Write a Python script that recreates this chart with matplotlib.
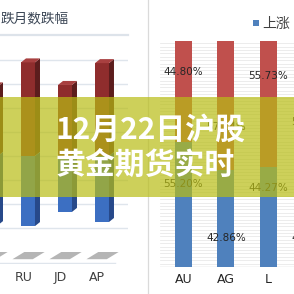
import numpy as np
import matplotlib
matplotlib.use("Agg")
import matplotlib.pyplot as plt
from matplotlib.patches import Polygon, Rectangle
from matplotlib.lines import Line2D

plt.rcParams['font.family'] = ['Noto Sans CJK SC', 'DejaVu Sans']

# ---------------- data ----------------
left_title = "跌月数跌幅"
left_categories = ["", "RU", "JD", "AP"]
left_up = [2.9, 3.9, 2.96, 3.87]        # red (up) bars, value units
left_down = [-2.88, -2.92, -2.33, -2.75]  # blue (down) bars

right_categories = ["AU", "AG", "L", ""]
right_down_pct = [44.80, 57.14, 55.73, 54.55]   # red (top)
right_up_pct = [55.20, 42.86, 44.27, 45.45]     # blue (bottom)
right_down_label_y = [0.863, 0.619, 0.845, 0.64]
right_up_label_y = [0.367, 0.128, 0.350, 0.128]
legend_label = "上涨"

banner_lines = ["12月22日沪股", "黄金期货实时"]

W = H = 294
fig = plt.figure(figsize=(2.94, 2.94), dpi=100)
fig.patch.set_facecolor("white")

def fx(px):
    return px / W

def fy(py):
    return 1 - py / H

# ---------------- left 3D-like chart ----------------
axL = fig.add_axes([fx(0), fy(264), fx(128) - fx(0), fy(36) - fy(264)])
axL.set_xlim(0.243, 3.703)
axL.set_ylim(-4.5, 5)
axL.axis("off")
for g in range(-3, 5):
    axL.axhline(g, color="#dfe5ec", lw=1.0, zorder=1)

bw = 0.378
dx = 0.135
dy = 0.167
for i, (u, d) in enumerate(zip(left_up, left_down)):
    x0, x1 = i - bw / 2, i + bw / 2
    # red up bar
    axL.add_patch(Polygon([(x0, 0), (x1, 0), (x1, u), (x0, u)], closed=True,
                          fc="#8f2d2d", ec="none", zorder=3))
    axL.add_patch(Polygon([(x1, 0), (x1 + dx, dy), (x1 + dx, u + dy), (x1, u)],
                          closed=True, fc="#5c1d1d", ec="none", zorder=3))
    axL.add_patch(Polygon([(x0, u), (x0 + dx, u + dy), (x1 + dx, u + dy), (x1, u)],
                          closed=True, fc="#a84040", ec="none", zorder=3))
    # blue down bar
    axL.add_patch(Polygon([(x0, d), (x1, d), (x1, 0), (x0, 0)], closed=True,
                          fc="#3c6fc2", ec="none", zorder=3))
    axL.add_patch(Polygon([(x1, d), (x1 + dx, d + dy), (x1 + dx, dy), (x1, 0)],
                          closed=True, fc="#27498a", ec="none", zorder=3))
    # floor shadow
    axL.add_patch(Polygon([(i - 0.42, -4.30), (i + 0.13, -4.30), (i + 0.45, -4.0), (i - 0.10, -4.0)],
                          closed=True, fc="#b5b5b5", ec="none", zorder=2))
    if left_categories[i]:
        axL.text(i - 0.13, -5.05, left_categories[i], ha="center", va="center",
                 fontsize=9, color="#404040", family="DejaVu Sans", clip_on=False)
axL.axhline(-4.45, xmax=0.9, color="#dfe5ec", lw=1.0, zorder=1)

# title + separator
fig.text(fx(1), fy(18), left_title, ha="left", va="center", fontsize=9.8, color="#3b4655")
fig.add_artist(Line2D([fx(0), fx(128)], [fy(35), fy(35)], color="#dde3ea", lw=1.6))

# divider
fig.add_artist(Line2D([fx(148), fx(148)], [0, 1], color="#dadada", lw=0.9))

# ---------------- right stacked chart ----------------
axR = fig.add_axes([fx(160), fy(267), fx(330) - fx(160), fy(41) - fy(267)])
axR.set_xlim(-0.55, 3.45)
axR.set_ylim(0, 1)
axR.axis("off")
for g in np.arange(0, 1.0001, 0.015):
    axR.axhline(g, color="#e9e9e9", lw=0.6, zorder=1)
axR.axhline(0, color="#d4d4d4", lw=1.0, zorder=2)

xs = np.arange(len(right_categories))
up = np.array(right_up_pct) / 100
dn = np.array(right_down_pct) / 100
axR.bar(xs, up, width=0.4, color="#4f81bd", zorder=3)
axR.bar(xs, dn, bottom=up, width=0.4, color="#c0504d", zorder=3)
for i in range(len(xs)):
    axR.text(xs[i], right_down_label_y[i], f"{right_down_pct[i]:.2f}%", ha="center", va="center",
             fontsize=7.5, color="#262626", family="DejaVu Sans", zorder=4, clip_on=False)
    axR.text(xs[i], right_up_label_y[i], f"{right_up_pct[i]:.2f}%", ha="center", va="center",
             fontsize=7.5, color="#262626", family="DejaVu Sans", zorder=4, clip_on=False)
    if right_categories[i]:
        axR.text(xs[i], -0.057, right_categories[i], ha="center", va="center",
                 fontsize=9, color="#262626", family="DejaVu Sans", clip_on=False)

# legend
fig.add_artist(Rectangle((fx(253), fy(26)), fx(6), fx(6), fc="#4f81bd", ec="none"))
fig.text(fx(262), fy(24), legend_label, ha="left", va="center", fontsize=10, color="#404040")

# ---------------- banner ----------------
fig.add_artist(Rectangle((0, fy(197)), 1, fy(97) - fy(197), fc=(0.72, 0.74, 0.08),
                         alpha=0.7, ec="none", zorder=10))
fig.text(fx(56), fy(130), banner_lines[0], ha="left", va="center", fontsize=21.5,
         fontweight="bold", color="white", zorder=11)
fig.text(fx(56), fy(166), banner_lines[1], ha="left", va="center", fontsize=21.5,
         fontweight="bold", color="white", zorder=11)

fig.savefig("out.png", dpi=100, facecolor="white")
